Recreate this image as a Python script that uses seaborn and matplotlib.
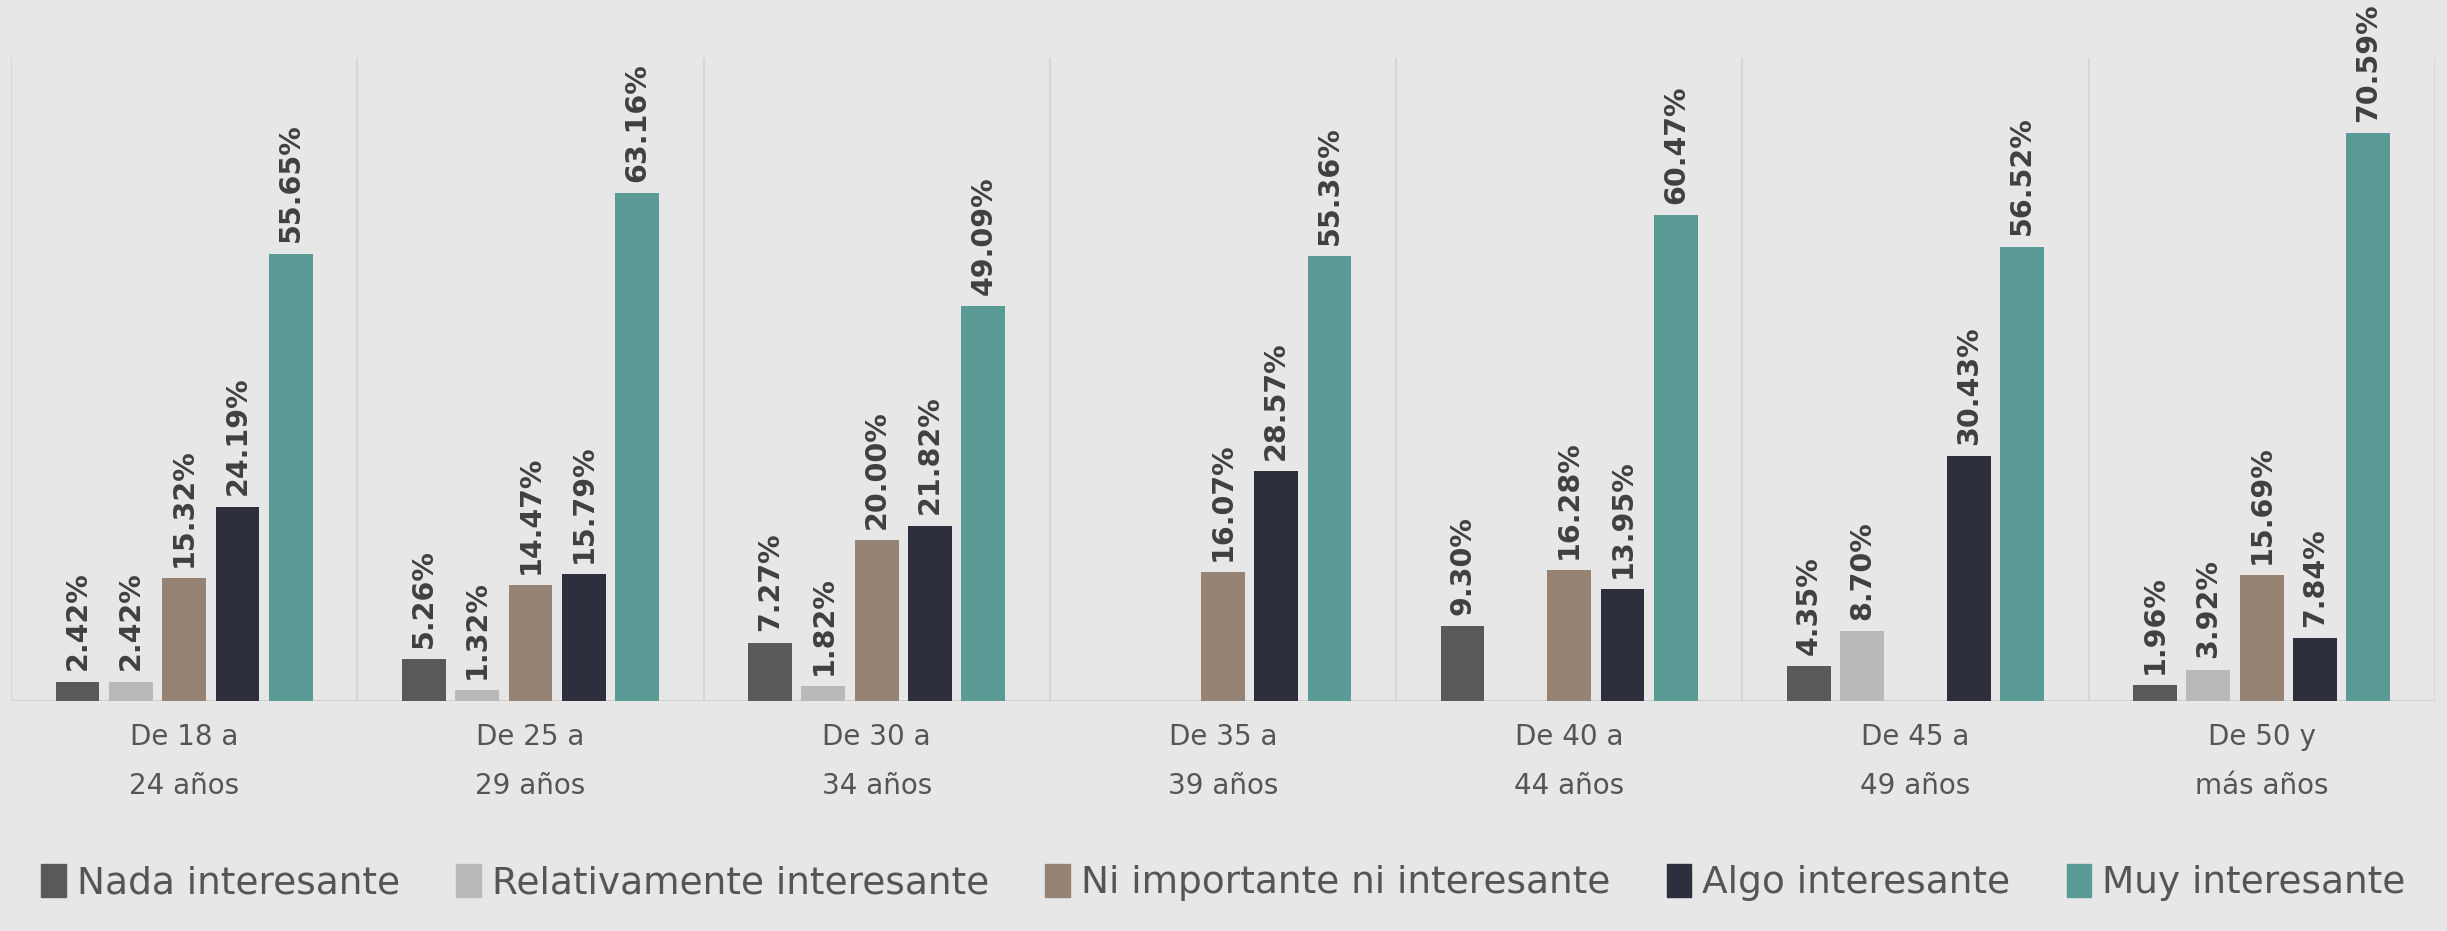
import numpy as np
import pandas as pd
import matplotlib.pyplot as plt
import seaborn as sns

# datos
grupos = ["De 18 a\n24 años", "De 25 a\n29 años", "De 30 a\n34 años", "De 35 a\n39 años",
          "De 40 a\n44 años", "De 45 a\n49 años", "De 50 y\nmás años"]
series = ["Nada interesante", "Relativamente interesante", "Ni importante ni interesante",
          "Algo interesante", "Muy interesante"]
nada = [2.42, 5.26, 7.27, np.nan, 9.30, 4.35, 1.96]
relativamente = [2.42, 1.32, 1.82, np.nan, np.nan, 8.70, 3.92]
ni_importante = [15.32, 14.47, 20.00, 16.07, 16.28, np.nan, 15.69]
algo = [24.19, 15.79, 21.82, 28.57, 13.95, 30.43, 7.84]
muy = [55.65, 63.16, 49.09, 55.36, 60.47, 56.52, 70.59]
colores = ["#595959", "#b9b9b9", "#968373", "#2d2f3d", "#5a9b96"]

valores = [nada, relativamente, ni_importante, algo, muy]
df = pd.DataFrame([(g, s, v) for s, vals in zip(series, valores) for g, v in zip(grupos, vals)],
                  columns=["grupo", "serie", "valor"])

fondo = "#e7e7e7"
sns.set_theme(style="white")
plt.rcParams["font.family"] = ["DejaVu Sans"]

fig = plt.figure(figsize=(24.47, 9.31), dpi=100, facecolor=fondo)
ax = fig.add_axes([0.0045, 0.247, 0.9905, 0.691])
ax.set_facecolor(fondo)

sns.barplot(data=df, x="grupo", y="valor", hue="serie", order=grupos, hue_order=series,
            palette=colores, width=0.77, gap=0.18, ax=ax, legend=False, saturation=1,
            linewidth=0)

# etiquetas de valor
for cont in ax.containers:
    for bar in cont:
        if bar is None:
            continue
        h = bar.get_height()
        if np.isnan(h) or h == 0:
            continue
        ax.annotate(f"{h:.2f}%", (bar.get_x() + bar.get_width() / 2, h), xytext=(0, 8),
                    textcoords="offset points", rotation=90, ha="center", va="bottom",
                    fontsize=20.5, fontweight="bold", color="#404040")

# separadores entre grupos
for i in range(len(grupos) + 1):
    ax.axvline(i - 0.5, color="#d6d6d6", lw=1.5, zorder=0)
ax.axhline(0, color="#cfcfcf", lw=1.5, zorder=0)

ax.set_xlim(-0.5, len(grupos) - 0.5)
ax.set_ylim(0, 80)
ax.set_yticks([])
ax.set_xlabel("")
ax.set_ylabel("")
for s in ax.spines.values():
    s.set_visible(False)
ax.tick_params(axis="x", length=0, pad=16, labelsize=20, labelcolor="#555555")
for t in ax.get_xticklabels():
    t.set_linespacing(1.95)

handles = [plt.Rectangle((0, 0), 1, 1, color=c) for c in colores]
fig.legend(handles, series, loc="center", bbox_to_anchor=(0.5, 0.052), ncol=5, frameon=False,
           handlelength=0.65, handleheight=1.0, handletextpad=0.3, columnspacing=1.5,
           labelcolor="#555555", fontsize=27)

fig.savefig("out.png", dpi=100, facecolor=fondo)
